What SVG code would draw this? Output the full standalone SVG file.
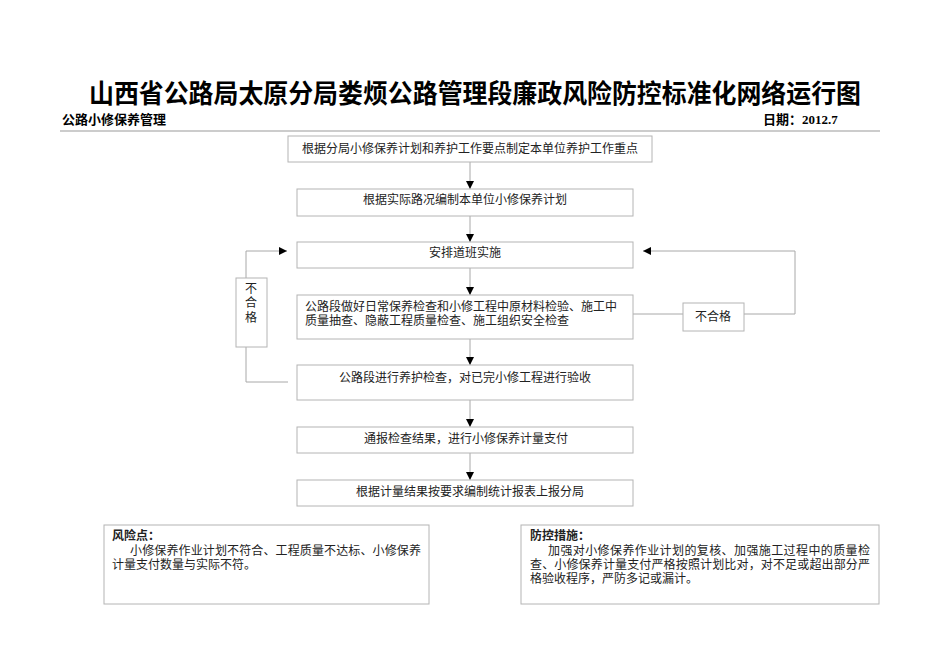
<svg xmlns="http://www.w3.org/2000/svg" width="950" height="672" viewBox="0 0 950 672">
<defs>
<style>
.bg{fill:#ffffff}
.box{fill:#ffffff;stroke:#b4b4b4;stroke-width:1}
.ln{fill:none;stroke:#a8a8a8;stroke-width:1}
.t{font-family:"Liberation Serif","Noto Sans CJK SC",serif;font-size:12px;fill:#222}
.c{text-anchor:middle}
.h{font-family:"Liberation Serif","Noto Sans CJK SC",serif;font-weight:bold;fill:#000}
</style>
<marker id="ah" viewBox="0 0 8 8" refX="8" refY="4" markerWidth="8" markerHeight="8" markerUnits="userSpaceOnUse" orient="auto">
<path d="M0,0 L8,4 L0,8 Z" fill="#000"/>
</marker>
</defs>
<rect class="bg" x="0" y="0" width="950" height="672"/>

<g id="header">
<text class="h" x="89" y="103" font-size="26" textLength="772" lengthAdjust="spacingAndGlyphs">山西省公路局太原分局娄烦公路管理段廉政风险防控标准化网络运行图</text>
<text class="h" x="62" y="124" font-size="13">公路小修保养管理</text>
<text class="h" x="763" y="124" font-size="13">日期：2012.7</text>
<line x1="60" y1="131" x2="880" y2="131" stroke="#999" stroke-width="1"/>
</g>

<g id="connectors">
<line class="ln" x1="470" y1="162" x2="470" y2="189" marker-end="url(#ah)"/>
<line class="ln" x1="470" y1="216" x2="470" y2="242" marker-end="url(#ah)"/>
<line class="ln" x1="470" y1="268" x2="470" y2="295" marker-end="url(#ah)"/>
<line class="ln" x1="470" y1="339" x2="470" y2="365" marker-end="url(#ah)"/>
<line class="ln" x1="470" y1="400" x2="470" y2="427" marker-end="url(#ah)"/>
<line class="ln" x1="470" y1="453" x2="470" y2="480" marker-end="url(#ah)"/>
<polyline class="ln" points="288,382 246,382 246,347"/>
<polyline class="ln" points="246,278 246,251 287,251" marker-end="url(#ah)"/>
<line class="ln" x1="632" y1="314" x2="683" y2="314"/>
<polyline class="ln" points="744,314 795,314 795,251 643,251" marker-end="url(#ah)"/>
</g>

<g id="n1"><rect class="box" x="288" y="136" width="364" height="26"/><text class="t c" x="470" y="153">根据分局小修保养计划和养护工作要点制定本单位养护工作重点</text></g>
<g id="n2"><rect class="box" x="297" y="189" width="336" height="27"/><text class="t c" x="465" y="204">根据实际路况编制本单位小修保养计划</text></g>
<g id="n3"><rect class="box" x="297" y="242" width="336" height="26"/><text class="t c" x="465" y="257">安排道班实施</text></g>
<g id="n4"><rect class="box" x="297" y="295" width="336" height="44"/>
<text class="t" x="305" y="311">公路段做好日常保养检查和小修工程中原材料检验、施工中</text>
<text class="t" x="305" y="325">质量抽查、隐蔽工程质量检查、施工组织安全检查</text></g>
<g id="n5"><rect class="box" x="297" y="365" width="336" height="35"/><text class="t c" x="465" y="382">公路段进行养护检查，对已完小修工程进行验收</text></g>
<g id="n6"><rect class="box" x="297" y="427" width="336" height="26"/><text class="t c" x="466" y="443">通报检查结果，进行小修保养计量支付</text></g>
<g id="n7"><rect class="box" x="297" y="480" width="336" height="26"/><text class="t c" x="470" y="496">根据计量结果按要求编制统计报表上报分局</text></g>

<g id="fail-left"><rect class="box" x="236" y="278" width="31" height="69"/>
<text class="t c" x="251" y="293">不</text><text class="t c" x="251" y="307">合</text><text class="t c" x="251" y="322">格</text></g>
<g id="fail-right"><rect class="box" x="683" y="303" width="61" height="28"/><text class="t c" x="713" y="321">不合格</text></g>

<g id="risk"><rect class="box" x="104" y="525" width="325" height="79"/>
<text class="t" x="112" y="540" font-weight="bold" fill="#000">风险点：</text>
<text class="t" x="130" y="555" textLength="291" lengthAdjust="spacing">小修保养作业计划不符合、工程质量不达标、小修保养</text>
<text class="t" x="112" y="569">计量支付数量与实际不符。</text></g>

<g id="measures"><rect class="box" x="521" y="525" width="358" height="79"/>
<text class="t" x="530" y="540" font-weight="bold" fill="#000">防控措施：</text>
<text class="t" x="548" y="555" textLength="322" lengthAdjust="spacing">加强对小修保养作业计划的复核、加强施工过程中的质量检</text>
<text class="t" x="530" y="569" textLength="340" lengthAdjust="spacing">查、小修保养计量支付严格按照计划比对，对不足或超出部分严</text>
<text class="t" x="530" y="583">格验收程序，严防多记或漏计。</text></g>
</svg>
